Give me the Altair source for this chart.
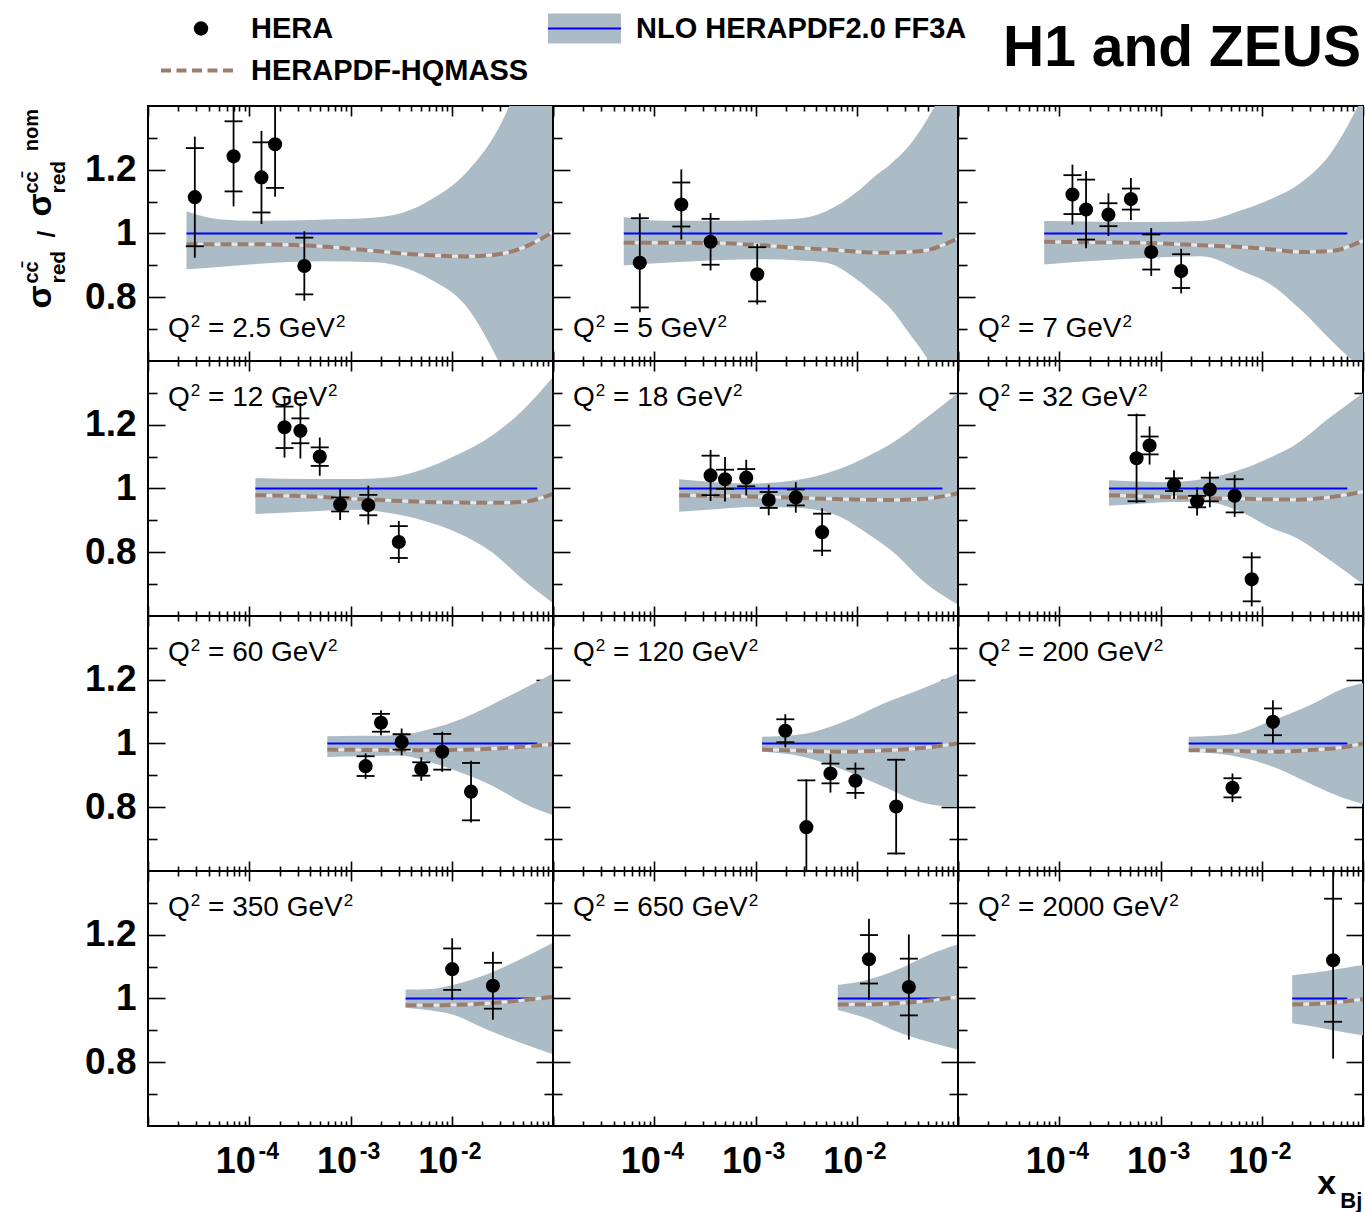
import altair as alt
import pandas as pd

# Q^2 bins in GeV^2, panels ordered row by row
Q2_LABELS = ["2.5", "5", "7", "12", "18", "32", "60", "120", "200", "350", "650", "2000"]

# Measured charm cross-section ratios: x_Bj, ratio, stat. error, total error
PT_X = [
    [2.9e-5, 7.0e-5, 1.32e-4, 1.8e-4, 3.5e-4],
    [7.2e-5, 1.85e-4, 3.6e-4, 1.04e-3],
    [1.35e-4, 1.84e-4, 3.06e-4, 5.1e-4, 8.1e-4, 1.6e-3],
    [2.23e-4, 3.2e-4, 4.97e-4, 7.9e-4, 1.5e-3, 3.0e-3],
    [3.6e-4, 5.0e-4, 8.1e-4, 1.35e-3, 2.5e-3, 4.55e-3],
    [5.8e-4, 7.8e-4, 1.36e-3, 2.3e-3, 3.07e-3, 5.4e-3, 7.96e-3],
    [1.41e-3, 2.0e-3, 3.2e-3, 5.0e-3, 8.05e-3, 1.55e-2],
    [1.97e-3, 3.18e-3, 5.5e-3, 9.7e-3, 2.45e-2],
    [5.14e-3, 1.29e-2],
    [1.01e-2, 2.55e-2],
    [1.32e-2, 3.27e-2],
    [5.07e-2],
]
PT_Y = [
    [1.114, 1.242, 1.176, 1.28, 0.898],
    [0.908, 1.091, 0.974, 0.872],
    [1.122, 1.075, 1.059, 1.108, 0.942, 0.882],
    [1.192, 1.181, 1.10, 0.95, 0.948, 0.832],
    [1.041, 1.029, 1.034, 0.964, 0.972, 0.863],
    [1.095, 1.135, 1.012, 0.959, 0.997, 0.977, 0.715],
    [0.929, 1.065, 1.005, 0.92, 0.974, 0.849],
    [1.04, 0.7375, 0.906, 0.883, 0.802],
    [0.861, 1.068],
    [1.092, 1.04],
    [1.123, 1.036],
    [1.12],
]
PT_STAT = [
    [0.154, 0.11, 0.11, 0.137, 0.089],
    [0.14, 0.069, 0.072, 0.085],
    [0.061, 0.094, 0.036, 0.033, 0.055, 0.053],
    [0.065, 0.039, 0.029, 0.022, 0.032, 0.05],
    [0.062, 0.03, 0.027, 0.025, 0.025, 0.058],
    [0.135, 0.028, 0.02, 0.018, 0.037, 0.052, 0.069],
    [0.031, 0.028, 0.024, 0.021, 0.056, 0.09],
    [0.036, 0.147, 0.031, 0.038, 0.147],
    [0.03, 0.042],
    [0.065, 0.072],
    [0.076, 0.089],
    [0.193],
]
PT_TOT = [
    [0.19, 0.157, 0.146, 0.165, 0.109],
    [0.155, 0.11, 0.09, 0.095],
    [0.094, 0.121, 0.067, 0.066, 0.075, 0.07],
    [0.095, 0.087, 0.06, 0.049, 0.061, 0.066],
    [0.08, 0.07, 0.056, 0.048, 0.048, 0.075],
    [0.14, 0.06, 0.045, 0.044, 0.056, 0.066, 0.085],
    [0.04, 0.039, 0.042, 0.037, 0.063, 0.097],
    [0.052, 0.15, 0.06, 0.057, 0.15],
    [0.045, 0.068],
    [0.097, 0.107],
    [0.127, 0.165],
    [0.309],
]

# NLO HERAPDF2.0 FF3A uncertainty band (upper / lower edge) and HERAPDF-HQMASS ratio
BAND_X = [
    [2.4e-5, 5.0e-5, 1.26e-4, 5.0e-4, 1.78e-3, 4.0e-3, 6.2e-3, 1.38e-2, 2.9e-2, 5.0e-2, 0.1],
    [5.0e-5, 1.26e-4, 4.0e-4, 1.26e-3, 2.5e-3, 5.0e-3, 1.0e-2, 1.51e-2, 2.19e-2, 3.24e-2, 5.0e-2, 0.1],
    [7.1e-5, 2.5e-4, 7.9e-4, 2.5e-3, 6.6e-3, 1.26e-2, 2.4e-2, 4.8e-2, 0.1],
    [1.15e-4, 4.0e-4, 1.17e-3, 2.5e-3, 5.4e-3, 1.12e-2, 2.5e-2, 5.0e-2, 0.1],
    [1.76e-4, 4.0e-4, 9.1e-4, 2.5e-3, 6.2e-3, 1.26e-2, 2.3e-2, 4.7e-2, 0.1],
    [3.1e-4, 6.3e-4, 1.26e-3, 2.8e-3, 5.9e-3, 1.26e-2, 2.2e-2, 4.5e-2, 0.1],
    [5.9e-4, 1.26e-3, 3.0e-3, 5.6e-3, 1.05e-2, 2.6e-2, 5.1e-2, 0.1],
    [1.16e-3, 3.0e-3, 7.4e-3, 1.82e-2, 4.4e-2, 0.1],
    [1.9e-3, 5.0e-3, 1.29e-2, 3.2e-2, 6.3e-2, 0.1],
    [3.5e-3, 6.3e-3, 1.05e-2, 2.1e-2, 4.4e-2, 0.1],
    [6.5e-3, 1.26e-2, 2.5e-2, 5.0e-2, 0.1],
    [2.0e-2, 4.0e-2, 6.3e-2, 0.1],
]
BAND_HI = [
    [1.07, 1.045, 1.04, 1.043, 1.05, 1.075, 1.106, 1.19, 1.33, 1.5, 1.75],
    [1.052, 1.04, 1.04, 1.042, 1.046, 1.07, 1.13, 1.18, 1.22, 1.273, 1.36, 1.55],
    [1.039, 1.037, 1.036, 1.039, 1.075, 1.11, 1.158, 1.252, 1.43],
    [1.033, 1.03, 1.03, 1.035, 1.062, 1.105, 1.166, 1.245, 1.35],
    [1.029, 1.02, 1.016, 1.026, 1.057, 1.10, 1.145, 1.218, 1.30],
    [1.026, 1.022, 1.02, 1.031, 1.057, 1.10, 1.14, 1.218, 1.30],
    [1.023, 1.024, 1.026, 1.042, 1.068, 1.125, 1.172, 1.22],
    [1.021, 1.03, 1.068, 1.125, 1.172, 1.22],
    [1.021, 1.028, 1.073, 1.125, 1.172, 1.19],
    [1.028, 1.03, 1.043, 1.073, 1.118, 1.175],
    [1.042, 1.058, 1.09, 1.135, 1.17],
    [1.073, 1.085, 1.095, 1.105],
]
BAND_LO = [
    [0.8875, 0.895, 0.905, 0.913, 0.91, 0.885, 0.856, 0.773, 0.60, 0.45, 0.3],
    [0.90, 0.908, 0.916, 0.919, 0.916, 0.908, 0.856, 0.81, 0.762, 0.69, 0.606, 0.42],
    [0.903, 0.915, 0.924, 0.929, 0.88, 0.838, 0.762, 0.666, 0.57],
    [0.92, 0.928, 0.933, 0.922, 0.898, 0.862, 0.80, 0.715, 0.64],
    [0.927, 0.935, 0.942, 0.94, 0.917, 0.86, 0.80, 0.705, 0.635],
    [0.946, 0.952, 0.958, 0.958, 0.93, 0.875, 0.845, 0.78, 0.70],
    [0.958, 0.96, 0.962, 0.945, 0.917, 0.865, 0.8125, 0.775],
    [0.974, 0.958, 0.917, 0.865, 0.815, 0.80],
    [0.974, 0.962, 0.927, 0.87, 0.83, 0.81],
    [0.971, 0.962, 0.948, 0.906, 0.865, 0.825],
    [0.964, 0.9375, 0.896, 0.865, 0.84],
    [0.922, 0.907, 0.895, 0.884],
]
HQMASS = [
    [0.966, 0.966, 0.966, 0.96, 0.945, 0.935, 0.932, 0.928, 0.935, 0.955, 1.005],
    [0.971, 0.971, 0.97, 0.962, 0.955, 0.95, 0.943, 0.94, 0.94, 0.942, 0.948, 0.985],
    [0.974, 0.972, 0.97, 0.963, 0.957, 0.95, 0.942, 0.945, 0.978],
    [0.979, 0.975, 0.967, 0.962, 0.958, 0.956, 0.955, 0.958, 0.983],
    [0.979, 0.977, 0.975, 0.971, 0.967, 0.965, 0.964, 0.968, 0.985],
    [0.979, 0.976, 0.973, 0.97, 0.968, 0.966, 0.965, 0.972, 0.99],
    [0.981, 0.98, 0.979, 0.979, 0.98, 0.984, 0.99, 0.998],
    [0.981, 0.977, 0.974, 0.978, 0.986, 1.0],
    [0.979, 0.977, 0.974, 0.98, 0.988, 1.0],
    [0.979, 0.979, 0.98, 0.984, 0.993, 1.005],
    [0.981, 0.981, 0.985, 0.993, 1.005],
    [0.981, 0.984, 0.99, 0.998],
]
NOMINAL_END = 0.07  # last x_Bj of the nominal FF3A curve

W, H = 405, 255
X_DOMAIN = [1e-5, 1e-1]
Y_DOMAIN = [0.6, 1.4]
X_MAJOR = [1e-5, 1e-4, 1e-3, 1e-2, 1e-1]
X_MINOR = [float(f"{k}e{e}") for e in range(-5, -1) for k in range(2, 10)]
X_LABELLED = [1e-4, 1e-3, 1e-2]
Y_MAJOR = [0.8, 1.0, 1.2]
Y_MINOR = [0.7, 0.9, 1.1, 1.3]

BAND_COLOR = "#acbcc6"
BLUE = "#0000ff"
BROWN = "#9b7d6e"
GAP = "#e6e9eb"
FONT = "Liberation Sans, Arial, sans-serif"
NARROW = "Liberation Sans Narrow, Liberation Sans, Arial, sans-serif"

# advance widths (per em) of Liberation Sans, used to place the raised exponents
ADVANCE = {"Q": 0.778, " ": 0.278, "=": 0.584, ".": 0.278, "G": 0.778, "e": 0.556,
           "V": 0.667, **{d: 0.556 for d in "0123456789"}}

XS = alt.Scale(type="log", domain=X_DOMAIN, nice=False)
YS = alt.Scale(domain=Y_DOMAIN, nice=False, zero=False)


def text_width(s, size):
    return sum(ADVANCE[c] for c in s) * size


def tick_axis(orient, values, size):
    # inward-pointing tick marks: the axis is moved onto the opposite frame edge
    offset = -H if orient in ("top", "bottom") else -W
    return alt.Axis(orient=orient, values=values, tickSize=size, offset=offset,
                    labels=False, domain=False, grid=False, title=None,
                    tickColor="black", tickWidth=1.6)


def text_layer(text, x, y, size, weight="normal", font=FONT, align="left",
               baseline="middle", angle=0):
    return alt.Chart(pd.DataFrame({"t": [text]})).mark_text(
        align=align, baseline=baseline, fontSize=size, fontWeight=weight,
        font=font, color="black", angle=angle,
    ).encode(text="t:N", x=alt.value(x), y=alt.value(y))


def q2_label(q2, x0, base):
    # "Q^2 = ... GeV^2" with raised exponents (SVG drops leading blanks, so the
    # gap before "=" is added to the position instead)
    big, small, rise = 28, 17, 10
    main = f"= {q2} GeV"
    x_sup1 = x0 + text_width("Q", big) + 1
    x_main = x_sup1 + text_width("2", small) + text_width(" ", big)
    x_sup2 = x_main + text_width(main, big) + 1
    return [
        text_layer("Q", x0, base, big, baseline="alphabetic"),
        text_layer("2", x_sup1, base - rise, small, baseline="alphabetic"),
        text_layer(main, x_main, base, big, baseline="alphabetic"),
        text_layer("2", x_sup2, base - rise, small, baseline="alphabetic"),
    ]


def header_layers():
    layers = []
    # invisible anchor fixing the top-left corner of the drawing
    layers.append(alt.Chart(pd.DataFrame({"a": [0]})).mark_point(
        size=1, filled=True, opacity=0).encode(x=alt.value(-146.2), y=alt.value(-104)))
    layers.append(alt.Chart(pd.DataFrame({"a": [0]})).mark_circle(
        size=210, color="black", opacity=1).encode(x=alt.value(53), y=alt.value(-77.5)))
    layers.append(text_layer("HERA", 103, -77.5, 29, "bold"))
    layers.append(alt.Chart(pd.DataFrame({"a": [0]})).mark_rule(
        color=BROWN, strokeWidth=4, strokeDash=[10, 5.5]).encode(
        x=alt.value(13), x2=alt.value(85), y=alt.value(-35.5)))
    layers.append(text_layer("HERAPDF-HQMASS", 103, -35.5, 29, "bold"))
    layers.append(alt.Chart(pd.DataFrame({"a": [0]})).mark_rect(
        color=BAND_COLOR).encode(x=alt.value(400), x2=alt.value(473),
                                 y=alt.value(-92.5), y2=alt.value(-62.5)))
    layers.append(alt.Chart(pd.DataFrame({"a": [0]})).mark_rule(
        color=BLUE, strokeWidth=2).encode(x=alt.value(400), x2=alt.value(473),
                                          y=alt.value(-77.5)))
    layers.append(text_layer("NLO HERAPDF2.0 FF3A", 488, -77.5, 29, "bold"))
    layers.append(text_layer("H1 and ZEUS", 1213, -57.5, 57, "bold", align="right"))
    # y-axis title: sigma_red^{cc} / sigma_red^{cc nom}, reading upwards
    cc = "cc\u0304"
    for txt, bx, sy, fs in [("\u03c3", -96.7, 202.5, 34), (cc, -110, 177.5, 20),
                            ("red", -83.4, 177.5, 21), ("/", -93.4, 131.5, 24),
                            ("\u03c3", -96.7, 110.5, 34), (cc + "\u2003nom", -110, 87.5, 20),
                            ("red", -83.4, 87.5, 21)]:
        layers.append(text_layer(txt, bx, sy, fs, "bold", baseline="alphabetic", angle=270))
    return layers


def panel(i):
    row, col = divmod(i, 3)
    bottom_row = row == 3
    left_col = col == 0

    pts = pd.DataFrame({"x": PT_X[i], "y": PT_Y[i], "stat": PT_STAT[i], "tot": PT_TOT[i]})
    pts["s_lo"] = pts["y"] - pts["stat"]
    pts["s_hi"] = pts["y"] + pts["stat"]
    pts["t_lo"] = pts["y"] - pts["tot"]
    pts["t_hi"] = pts["y"] + pts["tot"]
    band = pd.DataFrame({"x": BAND_X[i], "hi": BAND_HI[i], "lo": BAND_LO[i], "nom": HQMASS[i]})
    nominal = pd.DataFrame({"x0": [BAND_X[i][0]], "x1": [NOMINAL_END], "one": [1.0]})

    y_labels = alt.Axis(orient="left", values=Y_MAJOR, format="~g", ticks=False,
                        domain=False, grid=False, title=None, labelFont=FONT,
                        labelFontWeight="bold", labelFontSize=37, labelPadding=12,
                        labelColor="black") if left_col else None
    x_labels = alt.Axis(orient="bottom", values=X_LABELLED, labelExpr="'10'",
                        ticks=False, domain=False, grid=False, title=None,
                        labelFont=NARROW, labelFontWeight="bold", labelFontSize=36,
                        labelPadding=18, labelOffset=-14, labelOverlap=False,
                        labelFlush=False, labelColor="black") if bottom_row else None
    x_powers = alt.Axis(orient="bottom", values=X_LABELLED,
                        labelExpr="'-' + round(abs(log(datum.value) / LN10))",
                        ticks=False, domain=False, grid=False, title=None,
                        labelFont=NARROW, labelFontWeight="bold", labelFontSize=23,
                        labelPadding=14, labelOffset=19, labelOverlap=False,
                        labelFlush=False, labelColor="black") if bottom_row else None

    layers = [
        alt.Chart(band).mark_area(color=BAND_COLOR, opacity=1, interpolate="monotone",
                                  clip=True).encode(
            x=alt.X("x:Q", scale=XS, axis=x_labels),
            y=alt.Y("hi:Q", scale=YS, axis=y_labels), y2="lo:Q"),
        alt.Chart(nominal).mark_rule(color=BLUE, strokeWidth=2, clip=True).encode(
            x=alt.X("x0:Q", scale=XS, axis=tick_axis("top", X_MAJOR, 10)), x2="x1:Q",
            y=alt.Y("one:Q", scale=YS, axis=tick_axis("right", Y_MAJOR, 17))),
        alt.Chart(band).mark_line(color=GAP, strokeWidth=3, interpolate="monotone",
                                  clip=True).encode(
            x=alt.X("x:Q", scale=XS, axis=tick_axis("top", X_MINOR, 5)),
            y=alt.Y("nom:Q", scale=YS, axis=tick_axis("right", Y_MINOR, 9))),
        alt.Chart(band).mark_line(color=BROWN, strokeWidth=4, strokeDash=[11, 6],
                                  interpolate="monotone", clip=True).encode(
            x=alt.X("x:Q", scale=XS, axis=tick_axis("bottom", X_MAJOR, 10)),
            y=alt.Y("nom:Q", scale=YS, axis=tick_axis("left", Y_MAJOR, 17))),
        alt.Chart(pts).mark_rule(color="black", strokeWidth=1.8, clip=True).encode(
            x=alt.X("x:Q", scale=XS, axis=tick_axis("bottom", X_MINOR, 5)),
            y=alt.Y("t_lo:Q", scale=YS, axis=tick_axis("left", Y_MINOR, 9)), y2="t_hi:Q"),
        alt.Chart(pts).mark_tick(orient="horizontal", size=18, thickness=1.8,
                                 color="black", opacity=1, clip=True).encode(
            x=alt.X("x:Q", scale=XS, axis=x_powers),
            y=alt.Y("s_lo:Q", scale=YS, axis=None)),
        alt.Chart(pts).mark_tick(orient="horizontal", size=18, thickness=1.8,
                                 color="black", opacity=1, clip=True).encode(
            x=alt.X("x:Q", scale=XS, axis=None),
            y=alt.Y("s_hi:Q", scale=YS, axis=None)),
        alt.Chart(pts).mark_circle(size=200, color="black", opacity=1, clip=True).encode(
            x=alt.X("x:Q", scale=XS, axis=None),
            y=alt.Y("y:Q", scale=YS, axis=None)),
    ]
    layers += q2_label(Q2_LABELS[i], 20, 230.5 if row == 0 else 45)
    if i == 0:
        layers += header_layers()
    if i == 11:
        layers.append(text_layer("x", 359.3, 322.5, 34, "bold", baseline="alphabetic"))
        layers.append(text_layer("Bj", 382.3, 336.5, 22, "bold", baseline="alphabetic"))

    return alt.layer(*layers).resolve_axis(x="independent", y="independent").properties(
        width=W, height=H)


chart = alt.concat(*[panel(i) for i in range(12)], columns=3, spacing=0, bounds="flush")
chart = chart.properties(padding=0, background="white").configure_view(
    stroke="black", strokeWidth=2)

chart.save("out.html", embed_options={"renderer": "svg", "actions": False})
